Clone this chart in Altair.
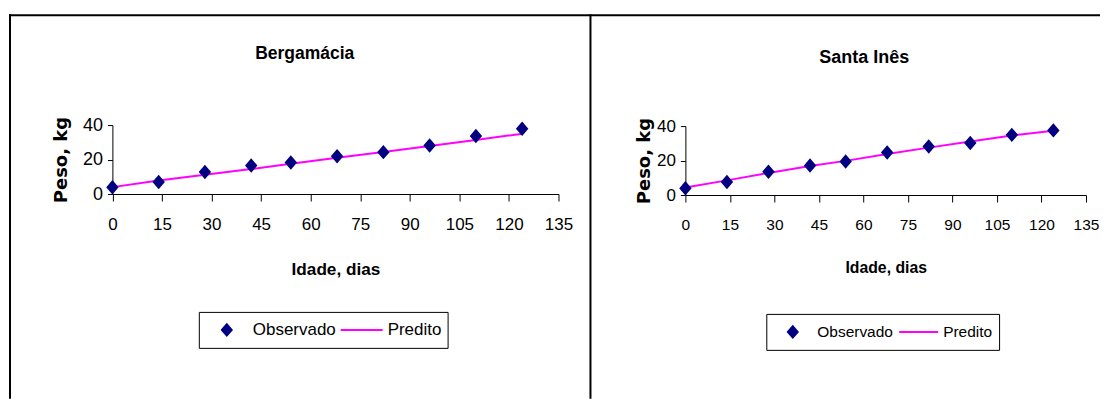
import altair as alt
import pandas as pd

# ---- data ----
dias = [0, 14, 28, 42, 54, 68, 82, 96, 110, 124]
berg_obs = [3.9, 7.0, 12.8, 16.5, 18.3, 21.9, 24.3, 28.2, 33.6, 37.9]
berg_pred = [4.0, 7.8, 11.2, 14.5, 17.5, 21.0, 24.4, 27.8, 31.3, 35.0]
santa_obs = [3.9, 7.6, 13.5, 17.1, 19.4, 24.7, 28.2, 30.2, 34.9, 37.5]
santa_pred = [4.3, 8.5, 12.8, 16.8, 19.8, 23.8, 27.5, 31.0, 34.5, 37.3]
x_ticks = [0, 15, 30, 45, 60, 75, 90, 105, 120, 135]
y_ticks = [0, 20, 40]
series = ["Observado", "Predito"]
titles = ["Bergamácia", "Santa Inês"]

NAVY = "#000080"
MAGENTA = "#FF00FF"
NARROW = "Liberation Sans, Arial, sans-serif"
REG = "Liberation Sans, Arial, sans-serif"
WIDE_BOLD = "DejaVu Sans, sans-serif"
DIAMOND = "M-0.86,0L0,-1L0.86,0L0,1Z"
H = 385


def panel(title, obs, pred, W, x0, x1, y0, y40, tx, ty, tfs, lx, ly, lfs, stroke_len,
          ytitle_x, xtitle_y, yfs, xfs, xtfs, colpad, left_border):
    df = pd.DataFrame({
        "dias": dias + dias,
        "peso": obs + pred,
        "serie": ["Observado"] * len(dias) + ["Predito"] * len(dias),
    })
    xs = alt.Scale(domain=[0, 135], range=[x0, x1], nice=False, zero=False)
    ys = alt.Scale(domain=[0, 40], range=[y0, y40], nice=False, zero=False)
    xax = alt.Axis(values=x_ticks, orient="bottom", offset=y0 - H, grid=False,
                   domainColor="black", tickColor="black", tickSize=7,
                   labelFont=NARROW, labelFontSize=xfs, labelColor="black",
                   labelPadding=16, labelOverlap=False, labelFlush=False,
                   title="Idade, dias", titleFont=NARROW, titleFontSize=xtfs,
                   titleFontWeight="bold", titleColor="black",
                   titleX=(x0 + x1) / 2, titleY=xtitle_y, titleBaseline="middle",
                   titleAlign="center")
    yax = alt.Axis(values=y_ticks, orient="left", offset=-x0, grid=False,
                   domainColor="black", tickColor="black", tickSize=5,
                   labelFont=REG, labelFontSize=yfs, labelColor="black",
                   labelPadding=5, labelOverlap=False,
                   title="Peso, kg", titleFont=WIDE_BOLD, titleFontSize=18,
                   titleFontWeight="bold", titleColor="black",
                   titleX=ytitle_x, titleY=(y0 + y40) / 2, titleAngle=270,
                   titleBaseline="middle", titleAlign="center")
    leg = alt.Legend(title=None, orient="none", legendX=lx, legendY=ly,
                     direction="horizontal", columns=2, clipHeight=24,
                     padding=6, columnPadding=colpad, strokeColor="black",
                     labelFont=NARROW, labelFontSize=lfs, labelColor="black",
                     labelOffset=4, symbolStrokeWidth=2, symbolOffset=0)
    stroke_scale = alt.Scale(domain=series, range=[NAVY, MAGENTA])
    X = alt.X("dias:Q", scale=xs, axis=xax)
    Y = alt.Y("peso:Q", scale=ys, axis=yax)

    line = alt.Chart(df).transform_filter(alt.datum.serie == "Predito").mark_line(
        strokeWidth=2).encode(
        x=X, y=Y,
        stroke=alt.Stroke("serie:N", scale=stroke_scale, legend=leg),
    )
    pts = alt.Chart(df).transform_filter(alt.datum.serie == "Observado").mark_point(
        filled=False, strokeWidth=2, opacity=1).encode(
        x=X, y=Y,
        stroke=alt.Stroke("serie:N", scale=stroke_scale, legend=leg),
        fill=alt.Fill("serie:N", scale=alt.Scale(domain=series, range=[NAVY, "transparent"]), legend=leg),
        shape=alt.Shape("serie:N", scale=alt.Scale(domain=series, range=[DIAMOND, "stroke"]), legend=leg),
        size=alt.Size("serie:N", scale=alt.Scale(type="ordinal", domain=series,
                                                  range=[130, stroke_len ** 2]), legend=leg),
    )
    one = pd.DataFrame({"t": [title]})
    ttl = alt.Chart(one).mark_text(font=NARROW, fontSize=tfs, fontWeight="bold",
                                   align="center", baseline="alphabetic",
                                   color="black").encode(
        text="t:N", x=alt.value(tx), y=alt.value(ty))
    layers = []
    top = alt.Chart(one).mark_rule(color="black", strokeWidth=2).encode(
        x=alt.value(0), x2=alt.value(W), y=alt.value(1))
    layers.append(top)
    if left_border:
        lb = alt.Chart(one).mark_rule(color="black", strokeWidth=2).encode(
            x=alt.value(1), y=alt.value(0), y2=alt.value(H))
        rb = alt.Chart(one).mark_rule(color="black", strokeWidth=2).encode(
            x=alt.value(W), y=alt.value(0), y2=alt.value(H))
        layers += [lb, rb]
    layers += [line, pts, ttl]
    return alt.layer(*layers).properties(width=W, height=H)


left = panel(titles[0], berg_obs, berg_pred, 582, 103.5, 550, 180, 111,
             296, 44.7, 17.5, 190, 298, 17, 42, -50.5, 75.7, 18, 17, 17.2, 3, True)
right = panel(titles[1], santa_obs, santa_pred, 510, 95, 496, 181, 112,
              274, 49, 18, 176, 300, 15.5, 39, -41, 73, 17, 15.5, 15.8, 5, False)

chart = alt.hconcat(left, right, spacing=0, bounds="flush").resolve_scale(
    stroke="independent", fill="independent", shape="independent", size="independent"
).resolve_legend(
    stroke="independent", fill="independent", shape="independent", size="independent"
).properties(
    padding={"left": 0, "top": 5, "right": 0, "bottom": 0}
).configure_view(stroke=None)

chart.save("out.html", embed_options={"renderer": "svg", "actions": False})
